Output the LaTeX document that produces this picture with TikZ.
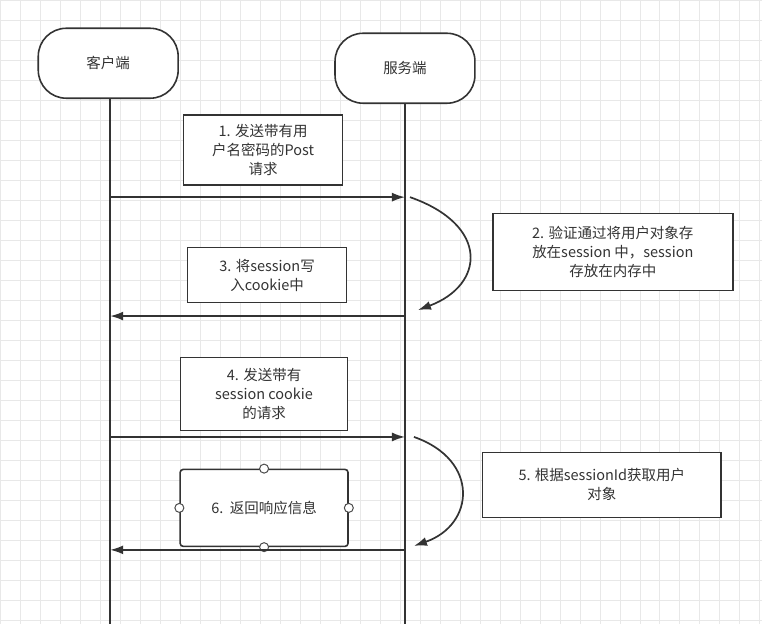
\documentclass[tikz,border=0pt]{standalone}
\usepackage{fontspec}
\setmainfont{Noto Sans CJK SC}
\usetikzlibrary{arrows.meta}
\begin{document}
\begin{tikzpicture}[x=1pt,y=-1pt,
 lbl/.style={draw=black!80,line width=1.6pt,fill=white,align=center,font=\fontsize{14.5}{19}\selectfont,text=black!80,inner sep=0pt},
 msg/.style={draw=black!80,line width=1.7pt,-{Latex[length=13pt,width=9pt]}},
 life/.style={draw=black!80,line width=1.7pt},
 dot/.style={circle,draw=black!70,fill=white,minimum size=9pt,inner sep=0pt,line width=1pt}]
\fill[white] (0,0) rectangle (762,624);
\foreach \i in {0,20,...,760} \draw[black!9,line width=0.6pt] (\i,0) -- (\i,624);
\foreach \j in {0,20,...,620} \draw[black!9,line width=0.6pt] (0,\j) -- (762,\j);
\node[lbl,rounded corners=28pt,minimum width=140pt,minimum height=70pt] (c) at (108,63) {客户端};
\node[lbl,rounded corners=28pt,minimum width=140pt,minimum height=70pt] (s) at (405,68) {服务端};
\coordinate (cb) at (110,624); \coordinate (sb) at (405,624);
\draw[life] (c.south -| cb) -- (cb);
\draw[life] (s.south) -- (sb);
\node[lbl,minimum width=159pt,minimum height=70pt] (b1) at (263,150) {1. 发送带有用\\户名密码的Post\\请求};
\node[lbl,minimum width=240pt,minimum height=77pt] (b2) at (613,252) {2. 验证通过将用户对象存\\放在session 中，session\\存放在内存中};
\node[lbl,minimum width=159pt,minimum height=55pt] (b3) at (267,275) {3. 将session写\\入cookie中};
\node[lbl,minimum width=167pt,minimum height=73pt] (b4) at (264,394) {4. 发送带有\\session cookie\\的请求};
\node[lbl,minimum width=239pt,minimum height=65pt] (b5) at (602,485) {5. 根据sessionId获取用户\\对象};
\node[lbl,rounded corners=3pt,minimum width=168pt,minimum height=77pt] (b6) at (264,508) {6.\ \ 返回响应信息};
\foreach \a in {north,south,east,west} \node[dot] (d\a) at (b6.\a) {};
\coordinate (a1s) at (110,197); \coordinate (a1e) at (405,197);
\coordinate (a3s) at (405,316); \coordinate (a3e) at (110,316);
\coordinate (a4s) at (110,437); \coordinate (a4e) at (405,437);
\coordinate (a6s) at (405,550); \coordinate (a6e) at (110,550);
\draw[msg] (a1s) -- (a1e);
\draw[msg] (a3s) -- (a3e);
\draw[msg] (a4s) -- (a4e);
\draw[msg] (a6s) -- (a6e);
\coordinate (r1s) at (410,197); \coordinate (r1e) at (418,310);
\coordinate (r2s) at (414,437); \coordinate (r2e) at (414,546);
\draw[msg] (r1s) .. controls (490,225) and (485,285) .. (r1e);
\draw[msg] (r2s) .. controls (480,460) and (475,525) .. (r2e);
\end{tikzpicture}
\end{document}
